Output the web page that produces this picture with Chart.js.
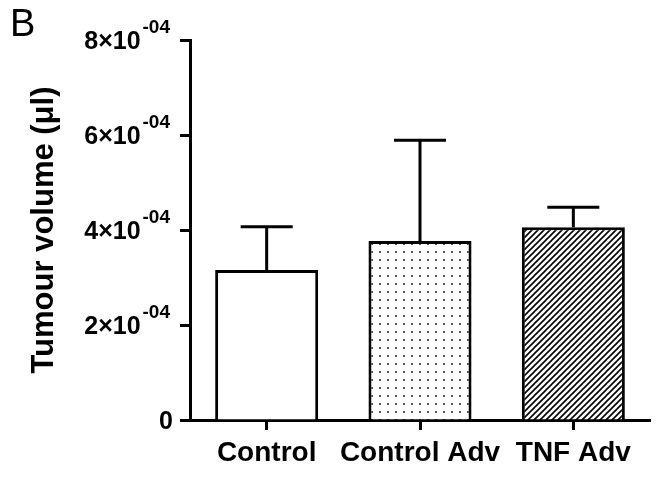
<!DOCTYPE html>
<html>
<head>
<meta charset="utf-8">
<script src="https://cdn.jsdelivr.net/npm/chart.js@4"></script>
<style>
  html, body { margin: 0; padding: 0; background: #fff; }
  #wrap { width: 656px; height: 480px; position: relative; }
</style>
</head>
<body>
<div id="wrap"><canvas id="chart-b" width="656" height="480"></canvas></div>
<script>
// tumour volume per group (µl), mean and upper error
var groups = ["Control", "Control Adv", "TNF Adv"];
var means = [3.16e-4, 3.77e-4, 4.06e-4];
var errors = [0.91e-4, 2.12e-4, 0.42e-4];
var yTicks = [0, 2e-4, 4e-4, 6e-4, 8e-4];

// fill patterns
function dotPattern() {
    var c = document.createElement("canvas");
    c.width = 8; c.height = 8;
    var g = c.getContext("2d");
    g.fillStyle = "#fff";
    g.fillRect(0, 0, 8, 8);
    g.fillStyle = "#555";
    g.fillRect(3, 3, 2, 2);
    return g.createPattern(c, "repeat");
}
function hatchPattern() {
    var c = document.createElement("canvas");
    c.width = 6; c.height = 6;
    var g = c.getContext("2d");
    g.fillStyle = "#fff";
    g.fillRect(0, 0, 6, 6);
    g.strokeStyle = "#000";
    g.lineWidth = 1.6;
    g.beginPath();
    g.moveTo(-1, 7); g.lineTo(7, -1);
    g.moveTo(-4, 4); g.lineTo(4, -4);
    g.moveTo(2, 10); g.lineTo(10, 2);
    g.stroke();
    return g.createPattern(c, "repeat");
}

// error bars (upper only)
var errorBars = {
    id: "errorBars",
    afterDatasetsDraw: function(chart) {
        var ctx = chart.ctx;
        var y = chart.scales.y;
        var meta = chart.getDatasetMeta(0);
        ctx.save();
        ctx.strokeStyle = "#000";
        ctx.lineWidth = 3;
        meta.data.forEach(function(bar, i) {
            var top = y.getPixelForValue(means[i] + errors[i]);
            ctx.beginPath();
            ctx.moveTo(bar.x, bar.y);
            ctx.lineTo(bar.x, top);
            ctx.moveTo(bar.x - 26, top);
            ctx.lineTo(bar.x + 26, top);
            ctx.stroke();
        });
        ctx.restore();
    }
};

// y labels like 8x10^-04 and the panel letter
var yLabels = {
    id: "yLabels",
    afterDraw: function(chart) {
        var ctx = chart.ctx;
        var y = chart.scales.y;
        ctx.save();
        ctx.fillStyle = "#000";
        ctx.textBaseline = "alphabetic";
        yTicks.forEach(function(v) {
            var py = y.getPixelForValue(v);
            if (v === 0) {
                ctx.font = "bold 25px Arial, 'Liberation Sans'";
                ctx.textAlign = "right";
                ctx.fillText("0", 173, py + 9);
                return;
            }
            var m = Math.round(v / 1e-4);
            ctx.font = "bold 19px Arial, 'Liberation Sans'";
            ctx.textAlign = "right";
            ctx.fillText("-04", 170, py - 7);
            var sw = ctx.measureText("-04").width;
            ctx.font = "bold 25px Arial, 'Liberation Sans'";
            ctx.fillText(m + "\u00d710", 168 - sw, py + 9);
        });
        ctx.font = "38px Arial, 'Liberation Sans'";
        ctx.textAlign = "left";
        ctx.fillText("B", 10, 36);
        ctx.restore();
    }
};

new Chart(document.getElementById("chart-b").getContext("2d"), {
    type: "bar",
    data: {
        labels: groups,
        datasets: [{
            data: means,
            backgroundColor: ["#fff", dotPattern(), hatchPattern()],
            borderColor: "#000",
            borderWidth: 3,
            barPercentage: 0.672,
            categoryPercentage: 1.0,
        }],
    },
    options: {
        responsive: false,
        animation: false,
        events: [],
        layout: { padding: { left: 0, top: 40, right: 6, bottom: 0 } },
        plugins: { legend: { display: false }, tooltip: { enabled: false } },
        scales: {
            x: {
                offset: true,
                border: { display: true, color: "#000", width: 3 },
                grid: { display: true, offset: false, drawOnChartArea: false, drawTicks: true, tickLength: 10, tickWidth: 3, tickColor: "#000", color: "#000" },
                ticks: {
                    color: "#000", padding: 6, autoSkip: false, maxRotation: 0, minRotation: 0,
                    font: { family: "Arial, 'Liberation Sans'", size: 28, weight: "bold" },
                },
                afterFit: function(s) { s.height = 60; },
            },
            y: {
                min: 0,
                max: 8e-4,
                afterBuildTicks: function(s) { s.ticks = yTicks.map(function(v) { return { value: v }; }); },
                border: { display: true, color: "#000", width: 3 },
                grid: { display: true, drawOnChartArea: false, drawTicks: true, tickLength: 10, tickWidth: 3, tickColor: "#000", color: "#000" },
                ticks: { display: false },
                title: {
                    display: true,
                    text: "Tumour volume (\u03bcl)",
                    color: "#000",
                    padding: { top: 26, bottom: 0 },
                    font: { family: "Arial, 'Liberation Sans'", size: 31, weight: "bold" },
                },
                afterFit: function(s) { s.width = 190; },
            },
        },
    },
    plugins: [errorBars, yLabels],
});
</script>
</body>
</html>
